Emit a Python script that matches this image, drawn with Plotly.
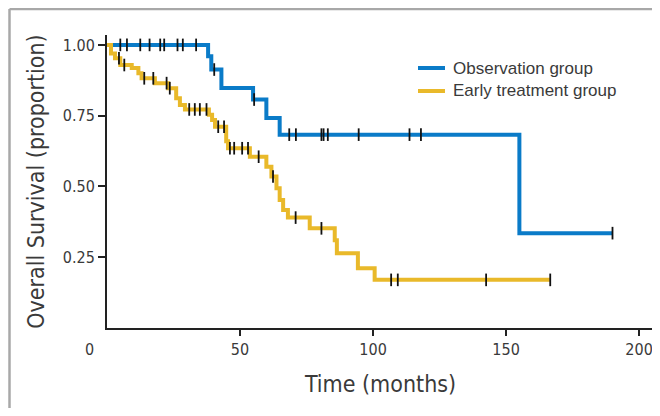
import plotly.graph_objects as go

# ---- data ----
obs_times = [0, 38.0, 39.2, 43.0, 54.9, 59.9, 64.9, 155.0, 190.0]
obs_surv = [1.0, 0.960, 0.913, 0.848, 0.807, 0.742, 0.683, 0.335, 0.335]
obs_censor = [5, 7.5, 12.5, 16, 20, 21.5, 26.5, 28.5, 33.5, 40.3, 55.3,
              68.5, 71, 80.6, 81.4, 83, 94.6, 113.7, 118, 190]

early_times = [0, 1.5, 3.0, 5.0, 9.3, 11.8, 13.0, 18.0, 23.0, 26.0, 27.4, 29.3,
               38.3, 39.5, 40.6, 44.8, 45.5, 53.7, 59.9, 61.8, 63.7, 64.9, 66.2,
               68.0, 76.2, 85.6, 86.4, 94.3, 100.6, 166.6]
early_surv = [1.0, 0.970, 0.953, 0.929, 0.918, 0.900, 0.882, 0.865, 0.847, 0.812,
              0.788, 0.772, 0.753, 0.735, 0.711, 0.66, 0.635, 0.605, 0.570, 0.535,
              0.494, 0.452, 0.417, 0.390, 0.352, 0.31, 0.264, 0.211, 0.170, 0.170]
early_censor = [4.5, 6.5, 14, 17.4, 22.4, 23.6, 30.9, 33, 34.9, 37.4, 41.8, 44,
                46.2, 47.8, 50.8, 53, 57, 62.4, 70.9, 80.6, 106.8, 109.3, 142.5, 166.6]

series_names = ["Observation group", "Early treatment group"]
x_ticks = [50, 100, 150, 200]
y_ticks = [0.25, 0.50, 0.75, 1.00]
y_tick_text = ["0.25", "0.50", "0.75", "1.00"]

BLUE = "#0a7bc8"
YELLOW = "#e9b92a"
AXIS = "#222222"
TXT = "#3a3a3a"
FRAME = "#a8a8a8"
NARROW = "DejaVu Sans Condensed, Liberation Sans Narrow, sans-serif"
LEGFONT = "Liberation Sans, Arial, sans-serif"

FIG_W, FIG_H = 652, 400
# plot area in screen pixels (page has an 8px body margin)
PX0, PX1, PY0, PY1 = 107, 654, 35, 328


def px(sx):
    return (sx - PX0) / (PX1 - PX0)


def py(sy):
    return (PY1 - sy) / (PY1 - PY0)


def step_value(times, surv, t):
    val = surv[0]
    for ti, si in zip(times, surv):
        if ti <= t:
            val = si
    return val


fig = go.Figure()
for name, times, surv, cens, col in [
    (series_names[0], obs_times, obs_surv, obs_censor, BLUE),
    (series_names[1], early_times, early_surv, early_censor, YELLOW),
]:
    fig.add_trace(go.Scatter(x=times, y=surv, mode="lines", name=name,
                             line=dict(color=col, width=4, shape="hv")))
    fig.add_trace(go.Scatter(x=cens, y=[step_value(times, surv, t) for t in cens],
                             mode="markers", showlegend=False,
                             marker=dict(symbol="line-ns", size=9,
                                         line=dict(color="#111111", width=1.8))))

fig.update_layout(
    width=FIG_W, height=FIG_H,
    margin=dict(l=PX0 - 8, r=FIG_W - (PX1 - 8), t=PY0 - 8, b=FIG_H - (PY1 - 8),
                autoexpand=False),
    paper_bgcolor="white", plot_bgcolor="white",
    showlegend=False,
    font=dict(family=NARROW, color=TXT),
)
fig.update_xaxes(range=[0, 205.6], tickvals=x_ticks, ticks="outside", ticklen=6,
                 tickwidth=1.5, tickcolor=AXIS, showline=True, linecolor=AXIS,
                 linewidth=2, showgrid=False, zeroline=False, automargin=False,
                 tickfont=dict(family=NARROW, size=16, color=TXT),
                 title=dict(text="Time (months)", standoff=18,
                            font=dict(family=NARROW, size=23, color=TXT)))
fig.update_yaxes(range=[0, 1.035], tickvals=y_ticks, ticktext=y_tick_text,
                 ticks="outside", ticklen=7, tickwidth=1.5, tickcolor=AXIS,
                 showline=True, linecolor=AXIS, linewidth=2, showgrid=False,
                 zeroline=False, automargin=False,
                 tickfont=dict(family=NARROW, size=16, color=TXT),
                 title=dict(text="Overall Survival (proportion)", standoff=12,
                            font=dict(family=NARROW, size=23, color=TXT)))

# origin label
fig.add_annotation(text="0", xref="paper", yref="paper",
                   x=px(89), y=py(349), showarrow=False,
                   xanchor="center", yanchor="middle",
                   font=dict(family=NARROW, size=16, color=TXT))

# legend (drawn manually for exact spacing)
for name, col, sy in [(series_names[0], BLUE, 68), (series_names[1], YELLOW, 91)]:
    fig.add_shape(type="line", xref="paper", yref="paper",
                  x0=px(418), x1=px(445), y0=py(sy), y1=py(sy),
                  line=dict(color=col, width=4))
    fig.add_annotation(text=name, xref="paper", yref="paper",
                       x=px(451), y=py(sy), showarrow=False,
                       xanchor="left", yanchor="middle",
                       font=dict(family=LEGFONT, size=17, color=TXT))

# outer frame: top and left edges only
fig.add_shape(type="line", xref="paper", yref="paper",
              x0=px(9.5), x1=px(660), y0=py(9), y1=py(9),
              line=dict(color=FRAME, width=2.5), layer="below")
fig.add_shape(type="line", xref="paper", yref="paper",
              x0=px(9.5), x1=px(9.5), y0=py(9), y1=py(416),
              line=dict(color=FRAME, width=2.5), layer="below")

fig.write_html("out.html")
